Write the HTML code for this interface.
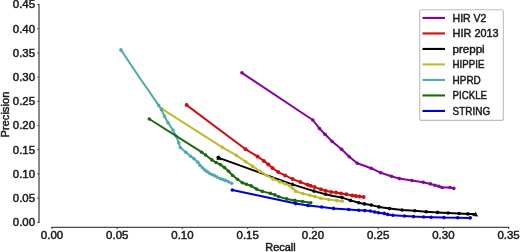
<!DOCTYPE html>
<html><head><meta charset="utf-8"><style>
html,body{margin:0;padding:0;background:#fff;}
svg{display:block;will-change:transform;}
.t{font-family:"Liberation Sans",sans-serif;font-size:10.2px;fill:#1a1a1a;stroke:#1a1a1a;stroke-width:0.45px;}
</style></head><body>
<svg width="520" height="252" viewBox="0 0 520 252">
<line x1="39" y1="4.50" x2="39" y2="222.30" stroke="#4a4a4a" stroke-width="1.3" stroke-linecap="square"/>
<line x1="52.00" y1="227.3" x2="508.61" y2="227.3" stroke="#4a4a4a" stroke-width="1.3" stroke-linecap="square"/>
<line x1="37.4" y1="222.30" x2="39" y2="222.30" stroke="#4a4a4a" stroke-width="1.2"/>
<text x="35.10" y="226.25" text-anchor="end" textLength="22.27" lengthAdjust="spacingAndGlyphs" class="t">0.00</text>
<line x1="37.4" y1="198.10" x2="39" y2="198.10" stroke="#4a4a4a" stroke-width="1.2"/>
<text x="35.10" y="202.05" text-anchor="end" textLength="22.27" lengthAdjust="spacingAndGlyphs" class="t">0.05</text>
<line x1="37.4" y1="173.90" x2="39" y2="173.90" stroke="#4a4a4a" stroke-width="1.2"/>
<text x="35.10" y="177.85" text-anchor="end" textLength="22.27" lengthAdjust="spacingAndGlyphs" class="t">0.10</text>
<line x1="37.4" y1="149.70" x2="39" y2="149.70" stroke="#4a4a4a" stroke-width="1.2"/>
<text x="35.10" y="153.65" text-anchor="end" textLength="22.27" lengthAdjust="spacingAndGlyphs" class="t">0.15</text>
<line x1="37.4" y1="125.50" x2="39" y2="125.50" stroke="#4a4a4a" stroke-width="1.2"/>
<text x="35.10" y="129.45" text-anchor="end" textLength="22.27" lengthAdjust="spacingAndGlyphs" class="t">0.20</text>
<line x1="37.4" y1="101.30" x2="39" y2="101.30" stroke="#4a4a4a" stroke-width="1.2"/>
<text x="35.10" y="105.25" text-anchor="end" textLength="22.27" lengthAdjust="spacingAndGlyphs" class="t">0.25</text>
<line x1="37.4" y1="77.10" x2="39" y2="77.10" stroke="#4a4a4a" stroke-width="1.2"/>
<text x="35.10" y="81.05" text-anchor="end" textLength="22.27" lengthAdjust="spacingAndGlyphs" class="t">0.30</text>
<line x1="37.4" y1="52.90" x2="39" y2="52.90" stroke="#4a4a4a" stroke-width="1.2"/>
<text x="35.10" y="56.85" text-anchor="end" textLength="22.27" lengthAdjust="spacingAndGlyphs" class="t">0.35</text>
<line x1="37.4" y1="28.70" x2="39" y2="28.70" stroke="#4a4a4a" stroke-width="1.2"/>
<text x="35.10" y="32.65" text-anchor="end" textLength="22.27" lengthAdjust="spacingAndGlyphs" class="t">0.40</text>
<line x1="37.4" y1="4.50" x2="39" y2="4.50" stroke="#4a4a4a" stroke-width="1.2"/>
<text x="35.10" y="8.45" text-anchor="end" textLength="22.27" lengthAdjust="spacingAndGlyphs" class="t">0.45</text>
<line x1="52.00" y1="227.3" x2="52.00" y2="228.9" stroke="#4a4a4a" stroke-width="1.2"/>
<text x="52.00" y="238.60" text-anchor="middle" textLength="22.27" lengthAdjust="spacingAndGlyphs" class="t">0.00</text>
<line x1="117.23" y1="227.3" x2="117.23" y2="228.9" stroke="#4a4a4a" stroke-width="1.2"/>
<text x="117.23" y="238.60" text-anchor="middle" textLength="22.27" lengthAdjust="spacingAndGlyphs" class="t">0.05</text>
<line x1="182.46" y1="227.3" x2="182.46" y2="228.9" stroke="#4a4a4a" stroke-width="1.2"/>
<text x="182.46" y="238.60" text-anchor="middle" textLength="22.27" lengthAdjust="spacingAndGlyphs" class="t">0.10</text>
<line x1="247.69" y1="227.3" x2="247.69" y2="228.9" stroke="#4a4a4a" stroke-width="1.2"/>
<text x="247.69" y="238.60" text-anchor="middle" textLength="22.27" lengthAdjust="spacingAndGlyphs" class="t">0.15</text>
<line x1="312.92" y1="227.3" x2="312.92" y2="228.9" stroke="#4a4a4a" stroke-width="1.2"/>
<text x="312.92" y="238.60" text-anchor="middle" textLength="22.27" lengthAdjust="spacingAndGlyphs" class="t">0.20</text>
<line x1="378.15" y1="227.3" x2="378.15" y2="228.9" stroke="#4a4a4a" stroke-width="1.2"/>
<text x="378.15" y="238.60" text-anchor="middle" textLength="22.27" lengthAdjust="spacingAndGlyphs" class="t">0.25</text>
<line x1="443.38" y1="227.3" x2="443.38" y2="228.9" stroke="#4a4a4a" stroke-width="1.2"/>
<text x="443.38" y="238.60" text-anchor="middle" textLength="22.27" lengthAdjust="spacingAndGlyphs" class="t">0.30</text>
<line x1="508.61" y1="227.3" x2="508.61" y2="228.9" stroke="#4a4a4a" stroke-width="1.2"/>
<text x="508.61" y="238.60" text-anchor="middle" textLength="22.27" lengthAdjust="spacingAndGlyphs" class="t">0.35</text>
<text x="280.50" y="250.60" text-anchor="middle" textLength="30.28" lengthAdjust="spacingAndGlyphs" class="t">Recall</text>
<g transform="translate(9.2,114.6) rotate(-90)"><text x="0" y="0" text-anchor="middle" textLength="45.91" lengthAdjust="spacingAndGlyphs" class="t">Precision</text></g>
<polyline points="241.9,72.8 312.8,120.0 319.5,128.6 325.0,134.3 332.2,141.5 341.6,149.2 349.3,156.8 357.3,163.2 371.2,168.2 380.7,172.8 391.4,176.2 399.3,178.6 411.9,180.5 423.2,182.3 430.4,183.9 434.9,185.2 438.9,186.3 442.0,187.5 450.0,187.5 453.8,188.4" fill="none" stroke="#82069a" stroke-width="2.0" stroke-linejoin="round" stroke-linecap="round"/>
<circle cx="241.9" cy="72.8" r="1.8" fill="#82069a"/>
<circle cx="312.8" cy="120.0" r="1.8" fill="#82069a"/>
<circle cx="319.5" cy="128.6" r="1.8" fill="#82069a"/>
<circle cx="325.0" cy="134.3" r="1.8" fill="#82069a"/>
<circle cx="332.2" cy="141.5" r="1.8" fill="#82069a"/>
<circle cx="341.6" cy="149.2" r="1.8" fill="#82069a"/>
<circle cx="349.3" cy="156.8" r="1.8" fill="#82069a"/>
<circle cx="357.3" cy="163.2" r="1.8" fill="#82069a"/>
<circle cx="371.2" cy="168.2" r="1.8" fill="#82069a"/>
<circle cx="380.7" cy="172.8" r="1.8" fill="#82069a"/>
<circle cx="391.4" cy="176.2" r="1.8" fill="#82069a"/>
<circle cx="399.3" cy="178.6" r="1.8" fill="#82069a"/>
<circle cx="411.9" cy="180.5" r="1.8" fill="#82069a"/>
<circle cx="423.2" cy="182.3" r="1.8" fill="#82069a"/>
<circle cx="430.4" cy="183.9" r="1.8" fill="#82069a"/>
<circle cx="434.9" cy="185.2" r="1.8" fill="#82069a"/>
<circle cx="438.9" cy="186.3" r="1.8" fill="#82069a"/>
<circle cx="442.0" cy="187.5" r="1.8" fill="#82069a"/>
<circle cx="450.0" cy="187.5" r="1.8" fill="#82069a"/>
<circle cx="453.8" cy="188.4" r="1.8" fill="#82069a"/>
<polyline points="186.6,105.1 245.6,149.3 257.5,156.4 263.8,160.9 268.3,164.4 272.5,168.0 278.2,172.1 285.1,175.4 292.6,179.1 300.4,182.1 307.5,184.8 310.5,185.8 314.5,187.1 320.9,189.2 325.6,190.8 331.2,191.9 336.0,192.6 341.0,193.6 346.3,194.3 352.3,195.5 355.8,196.0 359.4,196.5 363.6,197.1" fill="none" stroke="#d01010" stroke-width="2.0" stroke-linejoin="round" stroke-linecap="round"/>
<circle cx="186.6" cy="105.1" r="2.0" fill="#d01010"/>
<circle cx="245.6" cy="149.3" r="2.0" fill="#d01010"/>
<circle cx="257.5" cy="156.4" r="2.0" fill="#d01010"/>
<circle cx="263.8" cy="160.9" r="2.0" fill="#d01010"/>
<circle cx="268.3" cy="164.4" r="2.0" fill="#d01010"/>
<circle cx="272.5" cy="168.0" r="2.0" fill="#d01010"/>
<circle cx="278.2" cy="172.1" r="2.0" fill="#d01010"/>
<circle cx="285.1" cy="175.4" r="2.0" fill="#d01010"/>
<circle cx="292.6" cy="179.1" r="2.0" fill="#d01010"/>
<circle cx="300.4" cy="182.1" r="2.0" fill="#d01010"/>
<circle cx="307.5" cy="184.8" r="2.0" fill="#d01010"/>
<circle cx="310.5" cy="185.8" r="2.0" fill="#d01010"/>
<circle cx="314.5" cy="187.1" r="2.0" fill="#d01010"/>
<circle cx="320.9" cy="189.2" r="2.0" fill="#d01010"/>
<circle cx="325.6" cy="190.8" r="2.0" fill="#d01010"/>
<circle cx="331.2" cy="191.9" r="2.0" fill="#d01010"/>
<circle cx="336.0" cy="192.6" r="2.0" fill="#d01010"/>
<circle cx="341.0" cy="193.6" r="2.0" fill="#d01010"/>
<circle cx="346.3" cy="194.3" r="2.0" fill="#d01010"/>
<circle cx="352.3" cy="195.5" r="2.0" fill="#d01010"/>
<circle cx="355.8" cy="196.0" r="2.0" fill="#d01010"/>
<circle cx="359.4" cy="196.5" r="2.0" fill="#d01010"/>
<circle cx="363.6" cy="197.1" r="2.0" fill="#d01010"/>
<polyline points="218.2,157.6 292.3,184.4 314.0,191.1 325.6,194.2 333.0,196.0 342.1,197.6 350.5,200.4 358.8,202.8 364.5,203.9 371.3,205.1 378.9,206.9 389.5,208.6 402.0,210.0 414.7,210.8 426.2,211.7 437.6,212.4 448.1,213.0 459.1,213.5 467.8,213.9 473.5,214.1" fill="none" stroke="#000000" stroke-width="2.0" stroke-linejoin="round" stroke-linecap="round"/>
<circle cx="218.2" cy="157.6" r="1.8" fill="#000000"/>
<circle cx="292.3" cy="184.4" r="1.8" fill="#000000"/>
<circle cx="314.0" cy="191.1" r="1.8" fill="#000000"/>
<circle cx="325.6" cy="194.2" r="1.8" fill="#000000"/>
<circle cx="342.1" cy="197.6" r="1.8" fill="#000000"/>
<circle cx="350.5" cy="200.4" r="1.8" fill="#000000"/>
<circle cx="358.8" cy="202.8" r="1.8" fill="#000000"/>
<circle cx="364.5" cy="203.9" r="1.8" fill="#000000"/>
<circle cx="371.3" cy="205.1" r="1.8" fill="#000000"/>
<circle cx="378.9" cy="206.9" r="1.8" fill="#000000"/>
<circle cx="389.5" cy="208.6" r="1.8" fill="#000000"/>
<circle cx="402.0" cy="210.0" r="1.8" fill="#000000"/>
<circle cx="414.7" cy="210.8" r="1.8" fill="#000000"/>
<circle cx="426.2" cy="211.7" r="1.8" fill="#000000"/>
<circle cx="437.6" cy="212.4" r="1.8" fill="#000000"/>
<circle cx="448.1" cy="213.0" r="1.8" fill="#000000"/>
<circle cx="459.1" cy="213.5" r="1.8" fill="#000000"/>
<circle cx="467.8" cy="213.9" r="1.8" fill="#000000"/>
<polygon points="472.6,215.6 475.6,212.2 477.6,216.2" fill="#000" stroke="#000" stroke-width="0.6" stroke-linejoin="round"/>
<polygon points="218.8,155.7 216.8,159.6 221.8,159.7" fill="#000" stroke="#000" stroke-width="0.6" stroke-linejoin="round"/>
<polyline points="161.9,108.8 222.4,147.4 236.4,155.4 245.6,161.7 252.7,166.4 259.8,171.2 267.0,175.6 273.0,178.9 279.9,181.9 285.0,183.8 289.9,185.9 292.8,188.4 295.6,191.2 302.8,193.6 309.9,195.3 315.0,196.6 320.9,198.2 328.8,199.6 336.7,200.6 342.3,201.3" fill="none" stroke="#bcbc2c" stroke-width="2.0" stroke-linejoin="round" stroke-linecap="round"/>
<circle cx="161.9" cy="108.8" r="1.8" fill="#bcbc2c"/>
<circle cx="222.4" cy="147.4" r="1.8" fill="#bcbc2c"/>
<circle cx="236.4" cy="155.4" r="1.8" fill="#bcbc2c"/>
<circle cx="245.6" cy="161.7" r="1.8" fill="#bcbc2c"/>
<circle cx="252.7" cy="166.4" r="1.8" fill="#bcbc2c"/>
<circle cx="259.8" cy="171.2" r="1.8" fill="#bcbc2c"/>
<circle cx="267.0" cy="175.6" r="1.8" fill="#bcbc2c"/>
<circle cx="273.0" cy="178.9" r="1.8" fill="#bcbc2c"/>
<circle cx="279.9" cy="181.9" r="1.8" fill="#bcbc2c"/>
<circle cx="285.0" cy="183.8" r="1.8" fill="#bcbc2c"/>
<circle cx="289.9" cy="185.9" r="1.8" fill="#bcbc2c"/>
<circle cx="292.8" cy="188.4" r="1.8" fill="#bcbc2c"/>
<circle cx="295.6" cy="191.2" r="1.8" fill="#bcbc2c"/>
<circle cx="302.8" cy="193.6" r="1.8" fill="#bcbc2c"/>
<circle cx="309.9" cy="195.3" r="1.8" fill="#bcbc2c"/>
<circle cx="315.0" cy="196.6" r="1.8" fill="#bcbc2c"/>
<circle cx="320.9" cy="198.2" r="1.8" fill="#bcbc2c"/>
<circle cx="328.8" cy="199.6" r="1.8" fill="#bcbc2c"/>
<circle cx="336.7" cy="200.6" r="1.8" fill="#bcbc2c"/>
<circle cx="342.3" cy="201.3" r="1.8" fill="#bcbc2c"/>
<polyline points="120.9,49.9 141.2,80.0 158.7,105.4 161.5,109.8 164.5,116.3 168.1,122.9 172.9,130.0 176.3,136.3 178.7,142.7 180.3,147.5 185.9,152.2 190.6,156.2 193.8,158.6 197.8,162.2 200.0,165.3 202.5,167.8 204.8,170.0 207.0,171.6 209.5,173.3 212.0,174.5 214.3,175.6 217.0,177.0 220.6,178.8 223.0,179.6 225.4,180.4 228.5,181.8 231.6,183.2" fill="none" stroke="#52aaaa" stroke-width="2.0" stroke-linejoin="round" stroke-linecap="round"/>
<circle cx="120.9" cy="49.9" r="1.8" fill="#52aaaa"/>
<circle cx="158.7" cy="105.4" r="1.8" fill="#52aaaa"/>
<circle cx="161.5" cy="109.8" r="1.8" fill="#52aaaa"/>
<circle cx="164.5" cy="116.3" r="1.8" fill="#52aaaa"/>
<circle cx="168.1" cy="122.9" r="1.8" fill="#52aaaa"/>
<circle cx="172.9" cy="130.0" r="1.8" fill="#52aaaa"/>
<circle cx="176.3" cy="136.3" r="1.8" fill="#52aaaa"/>
<circle cx="178.7" cy="142.7" r="1.8" fill="#52aaaa"/>
<circle cx="180.3" cy="147.5" r="1.8" fill="#52aaaa"/>
<circle cx="185.9" cy="152.2" r="1.8" fill="#52aaaa"/>
<circle cx="190.6" cy="156.2" r="1.8" fill="#52aaaa"/>
<circle cx="193.8" cy="158.6" r="1.8" fill="#52aaaa"/>
<circle cx="197.8" cy="162.2" r="1.8" fill="#52aaaa"/>
<circle cx="200.0" cy="165.3" r="1.8" fill="#52aaaa"/>
<circle cx="202.5" cy="167.8" r="1.8" fill="#52aaaa"/>
<circle cx="204.8" cy="170.0" r="1.8" fill="#52aaaa"/>
<circle cx="207.0" cy="171.6" r="1.8" fill="#52aaaa"/>
<circle cx="209.5" cy="173.3" r="1.8" fill="#52aaaa"/>
<circle cx="212.0" cy="174.5" r="1.8" fill="#52aaaa"/>
<circle cx="214.3" cy="175.6" r="1.8" fill="#52aaaa"/>
<circle cx="217.0" cy="177.0" r="1.8" fill="#52aaaa"/>
<circle cx="220.6" cy="178.8" r="1.8" fill="#52aaaa"/>
<circle cx="223.0" cy="179.6" r="1.8" fill="#52aaaa"/>
<circle cx="225.4" cy="180.4" r="1.8" fill="#52aaaa"/>
<circle cx="228.5" cy="181.8" r="1.8" fill="#52aaaa"/>
<circle cx="231.6" cy="183.2" r="1.8" fill="#52aaaa"/>
<polyline points="149.3,119.0 201.7,152.2 205.6,155.0 211.8,159.9 216.0,162.5 220.6,164.7 224.5,167.6 228.6,171.2 232.7,175.5 237.5,179.2 242.3,182.7 246.5,184.3 251.2,185.9 256.5,189.1 262.4,191.4 270.4,193.4 274.8,194.9 278.8,196.7 286.7,198.9 294.7,200.4 302.6,201.6 310.8,202.8" fill="none" stroke="#1c680c" stroke-width="2.0" stroke-linejoin="round" stroke-linecap="round"/>
<circle cx="149.3" cy="119.0" r="1.8" fill="#1c680c"/>
<circle cx="201.7" cy="152.2" r="1.8" fill="#1c680c"/>
<circle cx="205.6" cy="155.0" r="1.8" fill="#1c680c"/>
<circle cx="211.8" cy="159.9" r="1.8" fill="#1c680c"/>
<circle cx="216.0" cy="162.5" r="1.8" fill="#1c680c"/>
<circle cx="220.6" cy="164.7" r="1.8" fill="#1c680c"/>
<circle cx="224.5" cy="167.6" r="1.8" fill="#1c680c"/>
<circle cx="228.6" cy="171.2" r="1.8" fill="#1c680c"/>
<circle cx="232.7" cy="175.5" r="1.8" fill="#1c680c"/>
<circle cx="237.5" cy="179.2" r="1.8" fill="#1c680c"/>
<circle cx="242.3" cy="182.7" r="1.8" fill="#1c680c"/>
<circle cx="246.5" cy="184.3" r="1.8" fill="#1c680c"/>
<circle cx="251.2" cy="185.9" r="1.8" fill="#1c680c"/>
<circle cx="256.5" cy="189.1" r="1.8" fill="#1c680c"/>
<circle cx="262.4" cy="191.4" r="1.8" fill="#1c680c"/>
<circle cx="270.4" cy="193.4" r="1.8" fill="#1c680c"/>
<circle cx="274.8" cy="194.9" r="1.8" fill="#1c680c"/>
<circle cx="278.8" cy="196.7" r="1.8" fill="#1c680c"/>
<circle cx="286.7" cy="198.9" r="1.8" fill="#1c680c"/>
<circle cx="294.7" cy="200.4" r="1.8" fill="#1c680c"/>
<circle cx="302.6" cy="201.6" r="1.8" fill="#1c680c"/>
<circle cx="310.8" cy="202.8" r="1.8" fill="#1c680c"/>
<polyline points="232.3,190.0 263.0,196.4 295.7,203.6 308.0,205.4 321.7,207.0 333.6,208.4 348.7,209.5 358.8,210.2 364.8,210.6 370.3,211.0 374.6,212.0 378.5,212.7 384.2,213.4 387.6,214.4 392.9,215.2 404.4,216.0 413.6,216.6 423.7,217.0 431.1,217.2 444.0,217.6 457.7,217.7 470.2,217.9" fill="none" stroke="#0000d0" stroke-width="2.0" stroke-linejoin="round" stroke-linecap="round"/>
<circle cx="232.3" cy="190.0" r="1.8" fill="#0000d0"/>
<circle cx="295.7" cy="203.6" r="1.8" fill="#0000d0"/>
<circle cx="308.0" cy="205.4" r="1.8" fill="#0000d0"/>
<circle cx="321.7" cy="207.0" r="1.8" fill="#0000d0"/>
<circle cx="333.6" cy="208.4" r="1.8" fill="#0000d0"/>
<circle cx="348.7" cy="209.5" r="1.8" fill="#0000d0"/>
<circle cx="358.8" cy="210.2" r="1.8" fill="#0000d0"/>
<circle cx="364.8" cy="210.6" r="1.8" fill="#0000d0"/>
<circle cx="370.3" cy="211.0" r="1.8" fill="#0000d0"/>
<circle cx="374.6" cy="212.0" r="1.8" fill="#0000d0"/>
<circle cx="378.5" cy="212.7" r="1.8" fill="#0000d0"/>
<circle cx="384.2" cy="213.4" r="1.8" fill="#0000d0"/>
<circle cx="387.6" cy="214.4" r="1.8" fill="#0000d0"/>
<circle cx="392.9" cy="215.2" r="1.8" fill="#0000d0"/>
<circle cx="404.4" cy="216.0" r="1.8" fill="#0000d0"/>
<circle cx="413.6" cy="216.6" r="1.8" fill="#0000d0"/>
<circle cx="423.7" cy="217.0" r="1.8" fill="#0000d0"/>
<circle cx="431.1" cy="217.2" r="1.8" fill="#0000d0"/>
<circle cx="444.0" cy="217.6" r="1.8" fill="#0000d0"/>
<circle cx="457.7" cy="217.7" r="1.8" fill="#0000d0"/>
<circle cx="470.2" cy="217.9" r="1.8" fill="#0000d0"/>
<rect x="419.7" y="9.8" width="83.6" height="110.6" rx="2" ry="2" fill="#fff" fill-opacity="0.8" stroke="#bdbdbd" stroke-width="1.1"/>
<line x1="422.5" y1="17.95" x2="445" y2="17.95" stroke="#82069a" stroke-width="2.1"/>
<text x="452.60" y="21.70" text-anchor="start" textLength="33.80" lengthAdjust="spacingAndGlyphs" class="t">HIR V2</text>
<line x1="422.5" y1="33.45" x2="445" y2="33.45" stroke="#d01010" stroke-width="2.1"/>
<text x="452.60" y="37.20" text-anchor="start" textLength="46.04" lengthAdjust="spacingAndGlyphs" class="t">HIR 2013</text>
<line x1="422.5" y1="48.95" x2="445" y2="48.95" stroke="#000000" stroke-width="2.1"/>
<text x="452.60" y="52.70" text-anchor="start" textLength="32.08" lengthAdjust="spacingAndGlyphs" class="t">preppi</text>
<line x1="422.5" y1="64.45" x2="445" y2="64.45" stroke="#bcbc2c" stroke-width="2.1"/>
<text x="452.60" y="68.20" text-anchor="start" textLength="31.80" lengthAdjust="spacingAndGlyphs" class="t">HIPPIE</text>
<line x1="422.5" y1="79.95" x2="445" y2="79.95" stroke="#52aaaa" stroke-width="2.1"/>
<text x="452.60" y="83.70" text-anchor="start" textLength="28.20" lengthAdjust="spacingAndGlyphs" class="t">HPRD</text>
<line x1="422.5" y1="95.45" x2="445" y2="95.45" stroke="#1c680c" stroke-width="2.1"/>
<text x="452.60" y="99.20" text-anchor="start" textLength="34.41" lengthAdjust="spacingAndGlyphs" class="t">PICKLE</text>
<line x1="422.5" y1="110.95" x2="445" y2="110.95" stroke="#0000d0" stroke-width="2.1"/>
<text x="452.60" y="114.70" text-anchor="start" textLength="37.58" lengthAdjust="spacingAndGlyphs" class="t">STRING</text>
</svg>
</body></html>
